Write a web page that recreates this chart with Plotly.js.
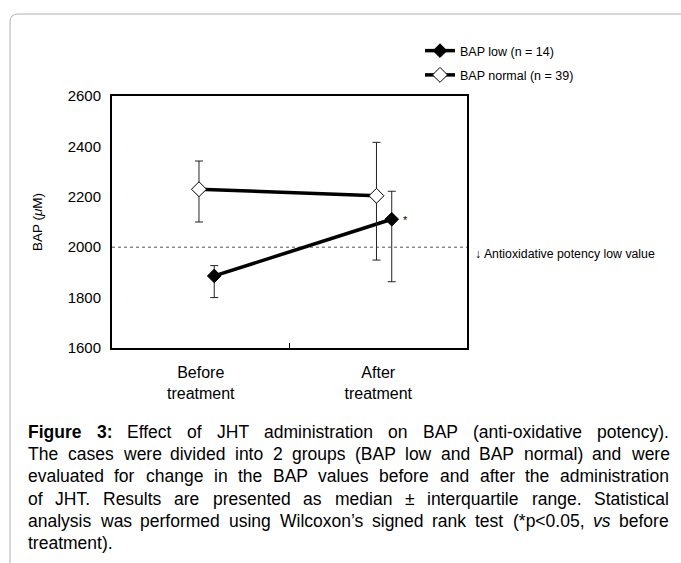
<!DOCTYPE html>
<html>
<head>
<meta charset="utf-8">
<script src="https://cdn.plot.ly/plotly-3.0.1.min.js"></script>
<style>
  html, body { margin: 0; padding: 0; background: #fff; }
  #chart { width: 681px; height: 563px; }
</style>
</head>
<body>
<div id="chart"></div>
<script>
// ---------- data ----------
const categories = ["Before<br>treatment", "After<br>treatment"];
const lowName = "BAP low (n = 14)";
const lowMedian = [1886, 2111];
const lowQ1 = [1800, 1863];
const lowQ3 = [1927, 2222];
const normalName = "BAP normal (n = 39)";
const normalMedian = [2230, 2204];
const normalQ1 = [2100, 1949];
const normalQ3 = [2342, 2416];
const lowThreshold = 2000;
const thresholdLabel = "\u2193 Antioxidative potency low value";
const significantIndex = [1]; // low group, after treatment
const yTitle = "BAP (<i>\u03bc</i>M)";
const yTicks = [1600, 1800, 2000, 2200, 2400, 2600];

const captionLines = [
  "**Figure **3: Effect of JHT administration on BAP (anti-oxidative potency).",
  "The cases were divided into 2 groups (BAP low and BAP normal) and were",
  "evaluated for change in the BAP values before and after the administration",
  "of JHT. Results are presented as median \u00b1 interquartile range. Statistical",
  "analysis was performed using Wilcoxon\u2019s signed rank test (*p<0.05, _vs before",
  "treatment)."
];

// ---------- geometry / style ----------
const FIG_W = 681, FIG_H = 563;
const M = { l: 112, r: 214, t: 96, b: 215 };
const PW = FIG_W - M.l - M.r, PH = FIG_H - M.t - M.b;
const px2x = px => (px - M.l) / PW;
const py2y = py => (FIG_H - M.b - py) / PH;
const FONT = "Liberation Sans, Arial, Helvetica, sans-serif";
const lowOffset = 0.076, normalOffset = -0.01;

const xLow = categories.map((c, i) => i + 0.5 + lowOffset);
const xNormal = categories.map((c, i) => i + 0.5 + normalOffset);

const errBar = (med, q1, q3) => ({
  type: "data", symmetric: false,
  array: med.map((m, i) => q3[i] - m),
  arrayminus: med.map((m, i) => m - q1[i]),
  color: "#222", thickness: 1, width: 4
});

const traces = [
  {
    x: xLow, y: lowMedian, name: lowName, type: "scatter", mode: "lines+markers",
    legendgroup: "a",
    line: { color: "#000", width: 3.5 },
    marker: { symbol: "diamond", size: 10.5, color: "#000", line: { color: "#000", width: 1 } },
    error_y: errBar(lowMedian, lowQ1, lowQ3)
  },
  {
    x: xNormal, y: normalMedian, name: normalName, type: "scatter", mode: "lines+markers",
    legendgroup: "b",
    line: { color: "#000", width: 3.5 },
    marker: { symbol: "diamond", size: 11.5, color: "#fff", line: { color: "#000", width: 1 } },
    error_y: errBar(normalMedian, normalQ1, normalQ3)
  },
  { x: [], y: [], xaxis: "x2", showlegend: false, hoverinfo: "skip", type: "scatter" }
];

// ---------- caption, justified ----------
const canvas = document.createElement("canvas");
const ctx = canvas.getContext("2d");
const CAP_SIZE = 17.5;
function parseWord(w) {
  let bold = false, italic = false;
  if (w.startsWith("**")) { bold = true; w = w.slice(2); }
  if (w.startsWith("_")) { italic = true; w = w.slice(1); }
  return { t: w, bold, italic };
}
function measure(wd) {
  ctx.font = (wd.italic ? "italic " : "") + (wd.bold ? "bold " : "") + CAP_SIZE + "px 'Liberation Sans'";
  return ctx.measureText(wd.t).width;
}
function tokens(line) {
  return line.split(" ").map(parseWord);
}
const capL = 27, capR = 668, capBase0 = 437.7, capStep = 22.3;
const annotations = [];
captionLines.forEach((line, li) => {
  let words = tokens(line);
  if (li === 0) { words[1].bold = true; }
  const widths = words.map(measure);
  const sumW = widths.reduce((a, b) => a + b, 0);
  const last = li === captionLines.length - 1;
  ctx.font = CAP_SIZE + "px 'Liberation Sans'";
  const gap = last ? ctx.measureText(" ").width : (capR - capL - sumW) / (words.length - 1);
  let x = capL;
  const yc = capBase0 + li * capStep - 6;
  words.forEach((wd, wi) => {
    let txt = wd.t.replace(/</g, "&lt;");
    if (wd.bold) txt = "<b>" + txt + "</b>";
    if (wd.italic) txt = "<i>" + txt + "</i>";
    annotations.push({
      xref: "paper", yref: "paper", x: px2x(x), y: py2y(yc),
      xanchor: "left", yanchor: "middle", showarrow: false, borderpad: 0,
      text: txt, font: { family: FONT, size: CAP_SIZE, color: "#000" }
    });
    x += widths[wi] + gap;
  });
});

// threshold label
annotations.push({
  xref: "paper", yref: "paper", x: px2x(474), y: py2y(254),
  xanchor: "left", yanchor: "middle", showarrow: false, borderpad: 0,
  text: thresholdLabel, font: { family: FONT, size: 12.3, color: "#000" }
});
// significance star
significantIndex.forEach(i => {
  annotations.push({
    xref: "x", yref: "y", x: xLow[i], y: lowMedian[i],
    xshift: 14, yshift: -1, showarrow: false, text: "*",
    font: { family: FONT, size: 11, color: "#000" }
  });
});

// frame around figure (rounded)
const fx = 10, fy = 14, fr = 8;
const framePath =
  `M ${px2x(fx)} ${py2y(FIG_H + 20)} L ${px2x(fx)} ${py2y(fy + fr)} ` +
  `Q ${px2x(fx)} ${py2y(fy)} ${px2x(fx + fr)} ${py2y(fy)} L ${px2x(FIG_W + 20)} ${py2y(fy)}`;

const layout = {
  width: FIG_W, height: FIG_H,
  margin: M,
  paper_bgcolor: "#fff", plot_bgcolor: "#fff",
  font: { family: FONT, color: "#000" },
  showlegend: true,
  legend: {
    x: px2x(420), y: py2y(36), xanchor: "left", yanchor: "top",
    font: { family: FONT, size: 12.5, color: "#000" },
    tracegroupgap: 5, bgcolor: "rgba(0,0,0,0)", itemwidth: 30
  },
  xaxis: {
    range: [0, 2], tickvals: categories.map((c, i) => i + 0.5), ticktext: categories,
    ticks: "", showline: true, mirror: true, linecolor: "#000", linewidth: 2,
    showgrid: false, zeroline: false, fixedrange: true,
    tickfont: { family: FONT, size: 16, color: "#000" }, ticklabelstandoff: 9
  },
  xaxis2: {
    overlaying: "x", anchor: "y", side: "bottom", range: [0, 2],
    tickvals: [0, 1, 2], ticks: "inside", ticklen: 5, tickwidth: 1.5, tickcolor: "#000",
    showticklabels: false, showline: false, showgrid: false, zeroline: false
  },
  yaxis: {
    range: [1600, 2600], tickvals: yTicks, ticks: "",
    showline: true, mirror: true, linecolor: "#000", linewidth: 2,
    showgrid: false, zeroline: false, fixedrange: true,
    tickfont: { family: FONT, size: 15, color: "#000" }, ticklabelstandoff: 6,
    title: { text: yTitle, font: { family: FONT, size: 13.5, color: "#000" }, standoff: 22 }
  },
  shapes: [
    {
      type: "line", xref: "paper", yref: "y", x0: 0, x1: 1, y0: lowThreshold, y1: lowThreshold,
      line: { color: "#555", width: 1, dash: "dot" }, layer: "below"
    },
    { type: "path", xref: "paper", yref: "paper", path: framePath, line: { color: "#b0b0b0", width: 1 } }
  ],
  annotations: annotations
};

Plotly.newPlot("chart", traces, layout, { displayModeBar: false, staticPlot: true });
</script>
</body>
</html>
